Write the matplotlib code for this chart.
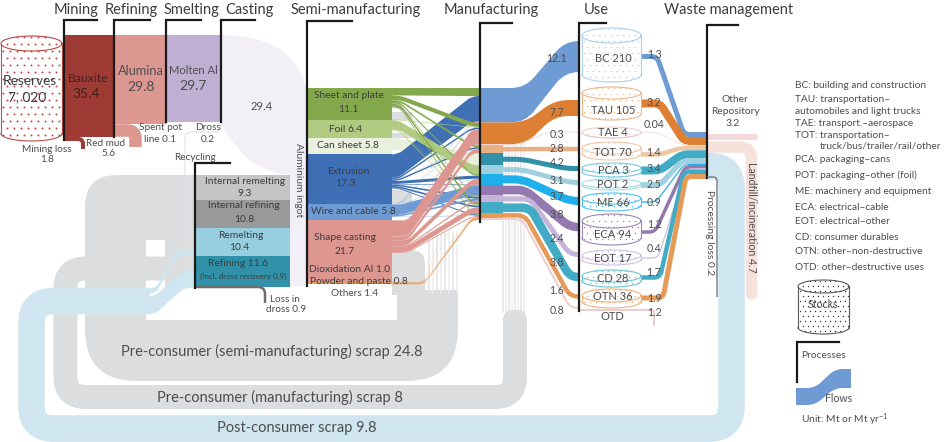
import numpy as np
import matplotlib
matplotlib.use("Agg")
import matplotlib.pyplot as plt
from matplotlib.path import Path
from matplotlib.patches import PathPatch, Rectangle

plt.rcParams['font.family'] = ['Lato', 'DejaVu Sans']
plt.rcParams['mathtext.default'] = 'regular'

TXT = '#4d4d4f'
SCALE = 2.85   # px per Mt

# ---- values ----
smelt_names = ['Bauxite', 'Alumina', 'Molten Al']
smelt_values = [35.4, 29.8, 29.7]
casting_value = 29.4

semi_names = ['Sheet and plate', 'Foil', 'Can sheet', 'Extrusion', 'Wire and cable', 'Shape casting', 'Powder and paste']
semi_values = [11.1, 6.4, 5.8, 17.3, 5.8, 21.7, 0.8]

use_names = ['BC', 'TAU', 'TAE', 'TOT', 'PCA', 'POT', 'ME', 'ECA', 'EOT', 'CD', 'OTN', 'OTD']
use_stock = [210, 105, 4, 70, 3, 2, 66, 94, 17, 28, 36, None]
use_in = [12.1, 7.7, 0.3, 2.8, 4.2, 3.1, 3.7, 3.8, 2.4, 3.8, 1.6, 0.8]
use_out = [1.3, 3.2, 0.04, 1.4, 3.4, 2.5, 0.9, 1.2, 0.4, 1.7, 1.9, 1.2]

recycle_names = ['Internal remelting', 'Internal refining', 'Remelting', 'Refining']
recycle_values = [9.3, 10.8, 10.4, 11.6]

# semi product -> end use, estimated from band widths
sheet_to_use = [2.6, 1.6, 0.1, 0.6, 0.0, 0.0, 0.5, 0.0, 0.2, 0.9, 0.4, 0.0]
foil_to_use = [0.0, 0.2, 0.0, 0.0, 0.0, 3.1, 0.0, 0.0, 0.1, 0.3, 0.0, 0.0]
can_to_use = [0.0, 0.0, 0.0, 0.0, 4.2, 0.0, 0.0, 0.0, 0.0, 0.0, 0.0, 0.0]
extrusion_to_use = [8.2, 0.6, 0.05, 0.5, 0.0, 0.0, 1.0, 0.2, 0.5, 0.6, 0.3, 0.0]
wire_to_use = [0.1, 0.1, 0.0, 0.1, 0.0, 0.0, 0.1, 3.6, 0.5, 0.0, 0.1, 0.0]
shape_to_use = [0.2, 5.4, 0.1, 1.3, 0.0, 0.0, 1.7, 0.0, 0.4, 2.0, 0.3, 0.0]
powder_to_use = [0.0, 0.1, 0.0, 0.1, 0.0, 0.0, 0.1, 0.0, 0.0, 0.1, 0.2, 0.2]

# ---- layout / styles ----
semi_colors = ['#84a94d', '#b1cc82', '#e9f0dd', '#3f70b5', '#6f9bd4', '#dd9790', '#e8a060']
use_colors = ['#6f9bd4', '#dd8033', '#f3d9d9', '#e9b083', '#3191a8', '#9ed0df', '#1fb0ec',
              '#9478b0', '#c5b5d8', '#42acc7', '#e69a58', '#f0cccc']
out_colors = ['#6f9bd4', '#dd8033', '#f3d9d9', '#f0c7a3', '#42acc7', '#9ed0df', '#1fb0ec',
              '#9478b0', '#c5b5d8', '#42acc7', '#e69a58']
cyl_colors = ['#aecfec', '#eeb78a', '#f0cfcf', '#f0c8a8', '#7ecada', '#a7d9e4', '#4fc3ee',
              '#9d86bb', '#cfc3e0', '#6cc3d8', '#eeb27f']
cyl_top = [28, 87, 127, 142, 163, 179, 193, 214, 250, 270, 289]
cyl_bot = [82, 120, 138, 160, 177, 190, 211, 245, 265, 287, 308]
cyl_eh = [7.5, 6, 5.5, 6, 5, 4.5, 5.5, 7, 5.5, 6, 6.5]

use_in_y = [56.5, 108, 132, 149, 168.5, 182.5, 201, 227, 254.5, 277, 296.5, 308]
use_in_h = [31, 16, 1, 4.5, 5, 5, 8, 8.5, 5, 8.5, 4.5, 2]
use_in_b0 = [525, 525, 518, 500, 522, 522, 522, 525, 530, 530, 525, 522]
use_in_b1 = [565, 555, 548, 540, 566, 570, 570, 570, 570, 570, 570, 570]
out_y = [56.5, 103.5, 132, 154.5, 170.5, 185, 202, 232, 258, 277.5, 298]
out_w = [5, 8, 0.8, 4.5, 8, 5.5, 1.2, 3.5, 1, 4.5, 5]
out_b0 = [657, 660, 655, 660, 660, 660, 656, 655, 658, 660, 663]
out_b1 = [684, 684, 684, 680, 682, 682, 684, 685, 686, 684, 686]

legend_lines = [(795, 86, 'BC: building and construction'),
                (795, 100, 'TAU: transportation–'), (795, 111, 'automobiles and light trucks'),
                (795, 124, 'TAE: transport.–aerospace'), (795, 135.5, 'TOT: transportation–'),
                (820, 146, 'truck/bus/trailer/rail/other'), (795, 160, 'PCA: packaging–cans'),
                (795, 175.5, 'POT: packaging–other (foil)'), (795, 192, 'ME: machinery and equipment'),
                (795, 207, 'ECA: electrical–cable'), (795, 221, 'EOT: electrical–other'),
                (795, 237, 'CD: consumer durables'), (795, 252, 'OTN: other–non-destructive'),
                (795, 267, 'OTD: other–destructive uses')]

fig = plt.figure(figsize=(9.46, 4.42), dpi=100)
ax = fig.add_axes([0, 0, 1, 1])
ax.set_xlim(0, 946)
ax.set_ylim(442, 0)
ax.axis('off')


def rounded(points, radii, close=False):
    n = len(points)
    pts = np.array(points, float)
    v, c = [], []
    for i in range(n):
        p = pts[i]
        r = radii[i]
        if r == 0 or (not close and i in (0, n - 1)):
            v.append(p)
            c.append(Path.LINETO)
            continue
        a = pts[i - 1] - p
        b = pts[(i + 1) % n] - p
        v += [p + a / np.hypot(*a) * r, p, p + b / np.hypot(*b) * r]
        c += [Path.LINETO, Path.CURVE3, Path.CURVE3]
    c[0] = Path.MOVETO
    if close:
        v.append(v[0])
        c.append(Path.CLOSEPOLY)
    return Path(v, c)


def band(x0, t0, b0, x1, t1, b1, bx0=None, bx1=None, color='k', z=2, r=10):
    bx0 = x0 + 1 if bx0 is None else max(bx0, x0 + 1)
    bx1 = x1 - 1 if bx1 is None else min(bx1, x1 - 1)
    r = min(r, bx0 - x0, x1 - bx1, (bx1 - bx0) * 0.45)
    pts = [(x0, t0), (bx0, t0), (bx1, t1), (x1, t1), (x1, b1), (bx1, b1), (bx0, b0), (x0, b0)]
    rad = [0, r, r, 0, 0, r, r, 0]
    ax.add_patch(PathPatch(rounded(pts, rad, close=True), fc=color, ec='none', lw=0, zorder=z))


def stroke(points, r, width, color, z=1, cap='butt'):
    path = rounded(points, [r] * len(points))
    ax.add_patch(PathPatch(path, fc='none', ec=color, lw=width * 0.72, capstyle=cap, zorder=z))


def cylinder(x0, x1, top, bot, eh, color, dot='', step=6, ds=1.0, lw=0.8, z=5):
    cx, rx = (x0 + x1) / 2, (x1 - x0) / 2
    yt, yb = top + eh, bot - eh
    th = np.linspace(0, np.pi, 40)
    xs = cx + rx * np.cos(th)
    ax.fill(np.r_[xs, xs[::-1]], np.r_[yt - eh * np.sin(th), yb + eh * np.sin(th[::-1])],
            fc='white', ec='none', zorder=z)
    gx, gy = np.meshgrid(np.arange(x0 + 2, x1, step), np.arange(top + 1, bot, step))
    gx = gx + (np.arange(gx.shape[0])[:, None] % 2) * step / 2
    gx, gy = gx.ravel(), gy.ravel()
    dx = (gx - cx) / rx
    inside = np.abs(dx) < 0.97
    arc = eh * np.sqrt(np.clip(1 - dx ** 2, 0, 1))
    inside &= (gy > yt - arc) & (gy < yb + arc)
    ax.scatter(gx[inside], gy[inside], s=ds, c=dot or color, lw=0, zorder=z + 0.1)
    th2 = np.linspace(0, 2 * np.pi, 80)
    ax.plot(cx + rx * np.cos(th2), yt + eh * np.sin(th2), color=color, lw=lw, zorder=z + 0.2)
    ax.plot(xs, yb + eh * np.sin(th), color=color, lw=lw, zorder=z + 0.2)
    ax.plot([x0, x0], [yt, yb], color=color, lw=lw, zorder=z + 0.2)
    ax.plot([x1, x1], [yt, yb], color=color, lw=lw, zorder=z + 0.2)


def bracket(x, y0, y1, x1, color='#1a1a1a', lw=1.6):
    ax.plot([x1, x, x], [y0, y0, y1], color=color, lw=lw, solid_joinstyle='miter', zorder=8)


def label(x, y, s, size=7.2, color=TXT, rot=0, ha='center'):
    ax.text(x, y, s, fontsize=size, color=color, ha=ha, va='center', rotation=rot, zorder=9)


GRAY = '#dcddde'
BLUE = '#cfe6f0'

# ---- back layer: scrap loops ----
semi_loop = [(195, 175), (85, 175), (85, 381), (458, 381), (458, 290), (397, 290), (397, 320),
             (146, 320), (146, 240), (195, 240)]
ax.add_patch(PathPatch(rounded(semi_loop, [0, 32, 52, 52, 0, 0, 0, 0, 0, 0], close=True),
                       fc=GRAY, ec='none', zorder=1))
ax.add_patch(PathPatch(rounded([(392, 250), (425, 250), (425, 295), (392, 295)], [0, 14, 0, 0], close=True),
                       fc=GRAY, ec='none', zorder=1))
ax.add_patch(Rectangle((165, 240), 30, 48, fc=GRAY, ec='none', zorder=1))
# streaks where scrap leaves the semi and manufacturing stages
for xs_, y0, y1 in [(np.arange(429, 458, 4), 232, 292), (np.arange(503, 527, 3), 118, 312)]:
    for j, xv in enumerate(xs_):
        ax.plot([xv, xv], [y0, y1], color='#eeeeef' if j % 2 else '#e2e3e4', lw=1.1, zorder=1)
for yy, hh in [(112, 8), (133, 5), (190, 13)]:
    ax.add_patch(Rectangle((392, yy), 20, hh, fc=GRAY, ec='none', zorder=1))

stroke([(195, 268.5), (65.5, 268.5), (65.5, 397), (515, 397), (515, 318)], 20, 24, GRAY, z=1.2)
ax.add_patch(PathPatch(rounded([(503, 322), (503, 310), (527, 310), (527, 322)], [0, 10, 10, 0], close=True),
                       fc=GRAY, ec='none', zorder=1.2))

stroke([(707, 136.5), (755, 136.5)], 0, 6, '#f3d9d9', z=1.3, cap='round')
stroke([(707, 147), (751.5, 147), (751.5, 294)], 12, 11.5, '#f6e1db', z=1.3, cap='round')
stroke([(150, 301), (31.5, 301), (31.5, 428.5), (731.5, 428.5), (731.5, 166), (707, 166)], 22, 26.5, BLUE, z=1.4)
band(150, 288, 293, 195, 249, 255, 156, 178, color=BLUE, z=1.5, r=5)
band(150, 296, 314, 195, 270, 288, 155, 184, color=BLUE, z=1.5, r=8)

# ---- mining to casting ----
stroke([(64, 139), (83, 139), (83, 149)], 5, 4, '#9e3b35', z=2)
stroke([(114, 130.5), (135.5, 130.5), (135.5, 147)], 8, 12.5, '#dd9791', z=2)
lilac = Path([(221, 35), (272, 35), (298, 55), (306, 88), (307, 88), (307, 286), (290, 286), (290, 175),
              (245, 172), (221, 122), (221, 35)],
             [Path.MOVETO, Path.CURVE4, Path.CURVE4, Path.CURVE4, Path.LINETO, Path.LINETO, Path.LINETO,
              Path.LINETO, Path.CURVE3, Path.CURVE3, Path.CLOSEPOLY])
ax.add_patch(PathPatch(lilac, fc='#f2f0f6', ec='none', zorder=2))
ax.add_patch(Rectangle((64, 35), 50, 102, fc='#9e3b35', ec='none', zorder=3))
ax.add_patch(Rectangle((114, 35), 52, 89, fc='#dd9791', ec='none', zorder=3))
ax.add_patch(Rectangle((166, 35), 55, 87, fc='#bfb0d3', ec='none', zorder=3))
# dross line to recycling
ax.add_patch(PathPatch(rounded([(221, 122), (221, 132), (185, 132), (185, 268), (195, 268)], [0, 6, 6, 6, 0]),
                       fc='none', ec='#e4e0ec', lw=0.8, zorder=2))
cylinder(1, 62, 36, 141, 7.5, '#b94a48', dot='#c9413f', step=7, ds=2.0)

# ---- semi-manufacturing to manufacturing ----
flows = [sheet_to_use, foil_to_use, can_to_use, extrusion_to_use, wire_to_use, shape_to_use, powder_to_use]
flows = np.array(flows)
semi_top = 88 + np.r_[0, np.cumsum(np.array(semi_values) * SCALE)][:-1]
semi_h = np.array(semi_values) * SCALE
slot_top = 88 + np.r_[0, np.cumsum(np.array(use_in) * SCALE)][:-1]
slot_h = np.array(use_in) * SCALE
col_sum = flows.sum(axis=0)

left_pos = {}
right_pos = {}
for i in range(len(semi_values)):
    y = semi_top[i]
    for j in range(len(use_in)):
        left_pos[i, j] = y
        y += flows[i, j] * SCALE
for j in range(len(use_in)):
    y = slot_top[j]
    for i in range(len(semi_values)):
        right_pos[i, j] = y
        y += flows[i, j] / col_sum[j] * slot_h[j] if col_sum[j] else 0

semi_bend = [400, 398, 396, 398, 400, 408, 424]
for order, i in enumerate([2, 3, 4, 1, 0, 5, 6]):
    for j in range(len(use_in)):
        v = flows[i, j]
        if v <= 0:
            continue
        lt, rt = left_pos[i, j], right_pos[i, j]
        band(392, lt, lt + v * SCALE, 480, rt, rt + v / col_sum[j] * slot_h[j], semi_bend[i], 472,
             color=semi_colors[i], z=3 + order * 0.05, r=6)

for i in range(7):
    ax.add_patch(Rectangle((308, semi_top[i]), 84, semi_h[i], fc=semi_colors[i], ec='none', zorder=4))

# ---- manufacturing to use ----
for j in range(len(use_in)):
    h = use_in_h[j]
    if j < 2:
        band(480, slot_top[j], slot_top[j] + slot_h[j], 579, use_in_y[j] - h / 2, use_in_y[j] + h / 2,
             use_in_b0[j], use_in_b1[j], color=use_colors[j], z=4.2, r=14)
    else:
        # the band steps down to its own width once the scrap has left
        ax.add_patch(Rectangle((480, slot_top[j]), 23, slot_h[j], fc=use_colors[j], ec='none', zorder=4.2))
        stroke([(495, slot_top[j] + slot_h[j] / 2), (use_in_b0[j], slot_top[j] + slot_h[j] / 2),
                (use_in_b1[j], use_in_y[j]), (579, use_in_y[j])], 8, h, use_colors[j], z=4.2)

# ---- recycling ----
rec_y = 175.0
rec_colors = ['#c4c5c7', '#98999b', '#97cfe0', '#3191a8']
for v, col in zip(recycle_values, rec_colors):
    h = v * 2.66
    ax.add_patch(Rectangle((195, rec_y), 95, h, fc=col, ec='none', zorder=4))
    rec_y += h
stroke([(195, 287), (265, 287), (265, 303)], 7, 2.5, '#6d6e71', z=4)

# ---- use to waste ----
wy = 132.0
for j in range(len(out_colors)):
    w = out_w[j]
    stroke([(641, out_y[j]), (out_b0[j], out_y[j]), (out_b1[j], wy + w / 2), (707, wy + w / 2)], 6, w,
           out_colors[j], z=4.5)
    wy += w
stroke([(579, 310), (654, 310), (654, 326)], 2, 2, '#f0cccc', z=4.5)

for j in range(len(cyl_top)):
    cylinder(582, 641, cyl_top[j], cyl_bot[j], cyl_eh[j], cyl_colors[j], step=6, ds=1.1)

# ---- process brackets ----
for x, y0, y1, x1 in [(64, 20, 140, 97), (114, 20, 137, 150), (166, 20, 122, 201), (221, 20, 122, 255),
                      (307, 21, 286, 352), (480, 23, 222, 512), (579, 23, 311, 606), (707, 25, 178, 738),
                      (195, 163, 288, 230)]:
    bracket(x, y0, y1, x1)
ax.add_patch(PathPatch(rounded([(707, 177), (717, 177), (717, 297)], [0, 4, 0]),
                       fc='none', ec='#77787b', lw=1.0, zorder=8))

# ---- titles ----
for x, s in [(76, 'Mining'), (131, 'Refining'), (191, 'Smelting'), (249, 'Casting'), (356, 'Semi-manufacturing'),
             (491, 'Manufacturing'), (596, 'Use'), (729, 'Waste management')]:
    label(x, 10, s, size=10.5, color='#3c3c3e')

# ---- labels ----
label(30, 81, 'Reserves', 9.8, '#3c3c3e')
label(27, 97, '7, 020', 9.8, '#3c3c3e')
label(88, 78, smelt_names[0], 8.8, '#4a1d1a')
label(86, 94, str(smelt_values[0]), 10, '#4a1d1a')
label(141, 71, smelt_names[1], 9.2)
label(141, 87, str(smelt_values[1]), 10)
label(193, 71, smelt_names[2], 8)
label(193, 86, str(smelt_values[2]), 10)
label(262, 107, str(casting_value), 8)
for x, y, s in [(47, 149, 'Mining loss'), (47, 159, '1.8'), (106, 143, 'Red mud'), (108, 153, '5.6'),
                (160, 128, 'Spent pot'), (160, 140, 'line 0.1'), (208, 127, 'Dross'), (208, 139, '0.2'),
                (195, 157, 'Recycling'), (285, 299, 'Loss in'), (286, 309, 'dross 0.9'), (355, 294, 'Others 1.4')]:
    label(x, y, s, 7.2)
label(298, 180, 'Aluminium ingot', 7.4, rot=270)
semi_labels = [(349, 96, semi_names[0]), (348, 110, str(semi_values[0])),
               (346, 129, '%s %s' % (semi_names[1], semi_values[1])),
               (348, 146, '%s %s' % (semi_names[2], semi_values[2])),
               (348, 172, semi_names[3]), (345, 184, str(semi_values[3])),
               (353, 211, '%s %s' % (semi_names[4], semi_values[4])),
               (345, 238, semi_names[5]), (345, 251, str(semi_values[5])),
               (350, 269, 'Dioxidation Al 1.0'),
               (359, 282, '%s %s' % (semi_names[6], semi_values[6]))]
for x, y, s in semi_labels:
    label(x, y, s, 7.4, '#3c3c3e')
rec_labels = [(245, 182, recycle_names[0]), (245, 193, str(recycle_values[0])),
              (244, 206, recycle_names[1]), (244, 219, str(recycle_values[1])),
              (241, 235, recycle_names[2]), (239, 248, str(recycle_values[2])),
              (238, 263, '%s %s' % (recycle_names[3], recycle_values[3]))]
for x, y, s in rec_labels:
    label(x, y, s, 7.4, '#3c3c3e')
label(243, 276, '(Incl. dross recovery 0.9)', 5.8, '#3c3c3e')
label(272, 351, 'Pre-consumer (semi-manufacturing) scrap 24.8', 10.5)
label(280, 397, 'Pre-consumer (manufacturing) scrap 8', 10.5)
label(297, 428, 'Post-consumer scrap 9.8', 10.5)

in_label_y = [58, 112, 135, 149, 163, 180, 197, 215, 239, 263, 291, 310]
for y, v in zip(in_label_y, use_in):
    label(557, y, str(v), 7.6)
out_label_y = [55, 103, 124, 153, 169, 184, 202, 225, 248, 272, 298, 313]
for y, v in zip(out_label_y, use_out):
    label(654, y, str(v), 7.6)

use_label_y = [58, 110, 133, 152, 171, 184, 202, 235, 258, 279, 297]
for j, y in enumerate(use_label_y):
    label(613, y, '%s %d' % (use_names[j], use_stock[j]), 8)
label(612, 316, use_names[11], 8)

label(735, 100, 'Other', 7.4)
label(735, 111, 'Repository', 7.4)
label(733, 123, '3.2', 7.4)
label(751, 217, 'Landfill/incineration 4.7', 7.6, rot=270)
label(709, 233, 'Processing loss 0.2', 7.4, rot=270)

# ---- legend ----
for x, y, s in legend_lines:
    label(x, y, s, 7.3, ha='left')
cylinder(798, 849, 280, 334, 6.5, '#58595b', dot='#333333', step=5, ds=1.0)
label(823, 305, 'Stocks', 7.6)
bracket(797, 342, 382, 839)
label(801, 355, 'Processes', 7.4, ha='left')
band(796, 388, 405, 851, 369, 388, 815, 835, color='#6f9bd4', z=3, r=8)
label(825, 398, 'Flows', 7.6, ha='left')
label(801, 420, 'Unit: Mt or Mt yr$^{-1}$', 7.4, ha='left')

fig.savefig('out.png', dpi=100)
